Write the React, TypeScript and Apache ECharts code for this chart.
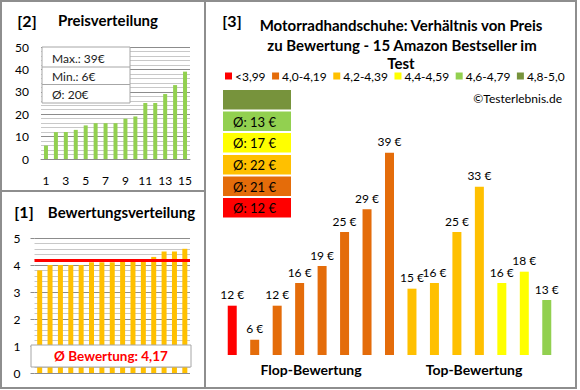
import React, { useEffect, useRef } from 'react';
import * as echarts from 'echarts';

// Products in the order of the right-hand chart (rating class, then price)
const prices = [12, 6, 12, 16, 19, 25, 29, 39, 15, 16, 25, 33, 16, 18, 13];
const ratings = [3.8, 4.0, 4.0, 4.0, 4.0, 4.1, 4.1, 4.1, 4.2, 4.2, 4.2, 4.3, 4.5, 4.5, 4.6];
const classNames = ['<3,99', '4,0-4,19', '4,2-4,39', '4,4-4,59', '4,6-4,79', '4,8-5,0'];
const classUpper = [4.0, 4.2, 4.4, 4.6, 4.8, 5.01];
const classColors = ['#FF0000', '#E46C0A', '#FFC000', '#FFFF00', '#92D050', '#77933C'];
const groupLabels = ['Flop-Bewertung', 'Top-Bewertung'];
const rankLabels = ['1', '2', '3', '4', '5', '6', '7', '8', '9', '10', '11', '12', '13', '14', '15'];

const FONT = 'Lato, "Open Sans", sans-serif';

const classOf = (r: number) => classUpper.findIndex((u) => r < u - 1e-9);

export default function App() {
  const ref = useRef<HTMLDivElement>(null);
  useEffect(() => {
    if (!ref.current) return;
    const chart = echarts.init(ref.current, undefined, { renderer: 'svg' });

    const sortedPrices = [...prices].sort((a, b) => a - b);
    const sortedRatings = [...ratings].sort((a, b) => a - b);
    const maxP = Math.max(...prices);
    const minP = Math.min(...prices);
    const avgP = Math.round(prices.reduce((s, v) => s + v, 0) / prices.length);
    const avgR = ratings.reduce((s, v) => s + v, 0) / ratings.length;
    const cls = ratings.map(classOf);
    const classAvg = classNames.map((_, c) => {
      const vals = prices.filter((_, i) => cls[i] === c);
      return vals.length ? Math.round(vals.reduce((s, v) => s + v, 0) / vals.length) : null;
    });

    const txt = (text: string, x: number, y: number, font: string, fill = '#000', align = 'center') => ({
      type: 'text',
      x,
      y,
      z: 100,
      style: { text, font, fill, align, verticalAlign: 'middle', textAlign: align, textVerticalAlign: 'middle' },
    });

    const boxOrder = [5, 4, 3, 2, 1, 0];
    const boxTops = [90, 111.5, 133, 155, 176.5, 198];
    const legendBoxes: any[] = [];
    boxOrder.forEach((c, k) => {
      legendBoxes.push({
        type: 'rect',
        z: 100,
        shape: { x: 223, y: boxTops[k], width: 68, height: 19.5 },
        style: { fill: classColors[c] },
      });
      if (classAvg[c] !== null) {
        legendBoxes.push(txt(`Ø: ${classAvg[c]} €`, 233, boxTops[k] + 10, `13px ${FONT}`, '#000', 'left'));
      }
    });

    const rightSeries = classNames.map((name, c) => ({
      name,
      type: 'bar',
      xAxisIndex: 2,
      yAxisIndex: 2,
      stack: 'p',
      barWidth: 9,
      itemStyle: { color: classColors[c] },
      label: {
        show: true,
        position: 'top',
        distance: 5,
        formatter: '{c} €',
        fontSize: 12,
        fontFamily: FONT,
        color: '#000',
      },
      data: prices.map((p, i) => (cls[i] === c ? p : '-')),
    }));

    chart.setOption({
      animation: false,
      textStyle: { fontFamily: FONT },
      legend: {
        data: classNames.map((n) => ({ name: n, icon: 'rect' })),
        left: 225,
        top: 70,
        width: 354,
        padding: 0,
        itemWidth: 7,
        itemHeight: 7,
        itemGap: 6.5,
        selectedMode: false,
        textStyle: { fontSize: 12, fontFamily: FONT, color: '#000', padding: [0, 0, 0, -2] },
      },
      grid: [
        { left: 41, right: 390, top: 47, bottom: 231 },
        { left: 34.5, right: 390, top: 238, bottom: 17 },
        { left: 221, right: 22, top: 147, bottom: 35 },
      ],
      xAxis: [
        {
          gridIndex: 0,
          type: 'category',
          data: rankLabels,
          axisLabel: { interval: 1, fontSize: 12, color: '#000', margin: 15, fontFamily: FONT },
          axisTick: { show: false },
          axisLine: { lineStyle: { color: '#8c8c8c' } },
        },
        {
          gridIndex: 1,
          type: 'category',
          data: rankLabels,
          axisLabel: { show: false },
          axisTick: { show: false },
          axisLine: { show: false },
        },
        {
          gridIndex: 2,
          type: 'category',
          data: rankLabels,
          show: false,
        },
      ],
      yAxis: [
        {
          gridIndex: 0,
          type: 'value',
          min: 0,
          max: 50,
          interval: 10,
          axisLabel: { fontSize: 12, color: '#000', margin: 12, fontFamily: FONT },
          axisLine: { show: false },
          axisTick: { show: false },
          splitLine: { lineStyle: { color: '#8c8c8c' } },
          minorTick: { show: false, splitNumber: 5 },
          minorSplitLine: { show: true, lineStyle: { color: '#c8c8c8' } },
        },
        {
          gridIndex: 1,
          type: 'value',
          min: 0,
          max: 5,
          interval: 1,
          axisLabel: { fontSize: 12, color: '#000', margin: 14, fontFamily: FONT },
          axisLine: { show: false },
          axisTick: { show: true, length: 4, lineStyle: { color: '#8c8c8c' } },
          splitLine: { lineStyle: { color: '#8c8c8c' } },
          minorTick: { show: false, splitNumber: 5 },
          minorSplitLine: { show: true, lineStyle: { color: '#c8c8c8' } },
        },
        {
          gridIndex: 2,
          type: 'value',
          min: 3.3,
          max: 40,
          show: false,
          splitLine: { show: false },
        },
      ],
      series: [
        {
          type: 'bar',
          xAxisIndex: 0,
          yAxisIndex: 0,
          barWidth: 4,
          itemStyle: { color: '#92D050' },
          data: sortedPrices,
        },
        {
          type: 'bar',
          xAxisIndex: 1,
          yAxisIndex: 1,
          barWidth: 5,
          itemStyle: { color: '#FFC000' },
          data: sortedRatings,
          markLine: {
            silent: true,
            symbol: 'none',
            label: { show: false },
            lineStyle: { color: '#FF0000', width: 3, type: 'solid' },
            data: [{ yAxis: avgR }],
          },
        },
        ...rightSeries,
      ],
      graphic: [
        // frames
        { type: 'rect', z: 100, shape: { x: 1, y: 1, width: 575, height: 387 }, style: { fill: 'none', stroke: '#8e8e8e', lineWidth: 2 } },
        { type: 'line', z: 100, shape: { x1: 205, y1: 1, x2: 205, y2: 388 }, style: { stroke: '#8e8e8e', lineWidth: 2 } },
        { type: 'line', z: 100, shape: { x1: 1, y1: 191, x2: 205, y2: 191 }, style: { stroke: '#8e8e8e', lineWidth: 2 } },
        // panel 2
        txt('[2]', 27, 20, `bold 16px ${FONT}`),
        txt('Preisverteilung', 108, 20, `bold 15px ${FONT}`),
        { type: 'rect', z: 100, shape: { x: 42, y: 47, width: 88, height: 56 }, style: { fill: '#fff', stroke: '#a6a6a6', lineWidth: 1 } },
        { type: 'line', z: 100, shape: { x1: 42, y1: 67, x2: 130, y2: 67 }, style: { stroke: '#a6a6a6', lineWidth: 1 } },
        { type: 'line', z: 100, shape: { x1: 42, y1: 84.5, x2: 130, y2: 84.5 }, style: { stroke: '#a6a6a6', lineWidth: 1 } },
        txt(`Max.: ${maxP}€`, 52, 58, `12px ${FONT}`, '#222', 'left'),
        txt(`Min.: ${minP}€`, 52, 76, `12px ${FONT}`, '#222', 'left'),
        txt(`Ø: ${avgP}€`, 52, 94, `12px ${FONT}`, '#222', 'left'),
        // panel 1
        txt('[1]', 24, 211, `bold 16px ${FONT}`),
        txt('Bewertungsverteilung', 121.5, 212, `bold 15px ${FONT}`),
        { type: 'rect', z: 100, shape: { x: 31, y: 345, width: 160, height: 22 }, style: { fill: '#fff', stroke: '#a6a6a6', lineWidth: 1 } },
        txt(`Ø Bewertung: ${avgR.toFixed(2).replace('.', ',')}`, 111, 356, `bold 13.5px ${FONT}`, '#FF0000'),
        // panel 3
        txt('[3]', 232, 20, `bold 16px ${FONT}`),
        txt('Motorradhandschuhe: Verhältnis von Preis', 401, 25, `bold 15px ${FONT}`),
        txt('zu Bewertung - 15 Amazon Bestseller im', 402, 45, `bold 15px ${FONT}`),
        txt('Test', 401, 63, `bold 15px ${FONT}`),
        txt('©Testerlebnis.de', 562, 98, `12px ${FONT}`, '#000', 'right'),
        ...legendBoxes,
        txt(groupLabels[0], 311, 369, `bold 14px ${FONT}`),
        txt(groupLabels[1], 474, 369, `bold 14px ${FONT}`),
      ],
    });
    return () => chart.dispose();
  }, []);
  return (
    <div
      ref={ref}
      style={{ position: 'fixed', left: 0, top: 0, width: 580, height: 390, background: '#fff' }}
    />
  );
}
